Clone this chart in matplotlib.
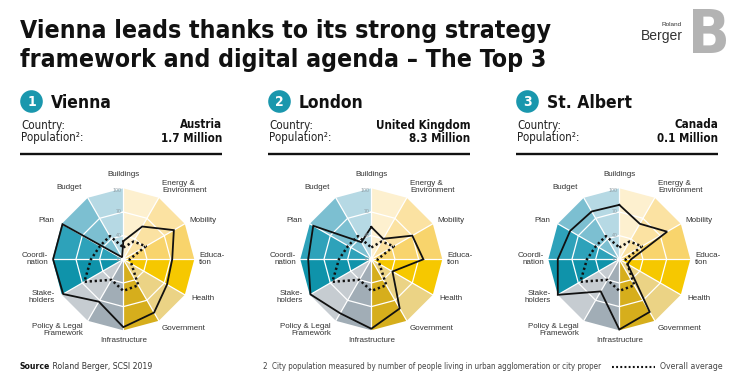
import os
import numpy as np
import matplotlib
matplotlib.use("Agg")
import matplotlib.pyplot as plt
from matplotlib import font_manager
from matplotlib.font_manager import FontProperties
from matplotlib.patches import Circle

# ---- data ----
categories = ['Buildings', 'Energy &\nEnvironment', 'Mobility', 'Educa-\ntion', 'Health',
              'Government', 'Infrastructure', 'Policy & Legal\nFramework', 'Stake-\nholders',
              'Coordi-\nnation', 'Plan', 'Budget']
vienna = [33, 58, 84, 72, 74, 88, 96, 72, 98, 99, 99, 13]
london = [51, 40, 70, 76, 41, 82, 98, 89, 99, 90, 95, 35]
st_albert = [79, 62, 80, 25, 22, 87, 99, 57, 100, 88, 82, 80]
overall_avg = [25, 36, 43, 18, 22, 48, 50, 40, 67, 51, 44, 44]

cities = ['Vienna', 'London', 'St. Albert']
countries = ['Austria', 'United Kingdom', 'Canada']
populations = ['1.7 Million', '8.3 Million', '0.1 Million']
city_scores = [vienna, london, st_albert]
ring_ticks = [10, 40, 70, 100]

# wedge colours, clockwise from the top spoke
wedge_colors = ['#FDF0CF', '#FBE2A2', '#F8D46C', '#F6C800', '#EBD385', '#D6AE1C',
                '#A1ADB6', '#C6CCD1', '#0F93AA', '#2EA2BA', '#7CBFD1', '#B6D9E4']

# label placement (angle in degrees, radius in score units)
label_pos = [(0, 117), (40, 130), (64, 123), (90, 122), (116, 122), (139, 126),
             (180, 113), (223, 132), (245, 124), (270, 122), (297, 119), (323, 124)]
label_align = ['center', 'left', 'center', 'left', 'center', 'center',
               'center', 'right', 'right', 'right', 'center', 'center']


def find_condensed(want_weight):
    """Look for an installed narrow/condensed face, closest to the wanted weight."""
    best, best_score = None, None
    for f in font_manager.fontManager.ttflist:
        nm = f.name.lower()
        fn = os.path.basename(f.fname).lower()
        stretch = str(f.stretch).lower()
        cond = ('condensed' in stretch or 'narrow' in nm or 'condensed' in nm
                or 'cond' in fn or 'narrow' in fn)
        if not cond or f.style != 'normal' or 'italic' in fn or 'mono' in nm:
            continue
        w = f.weight if isinstance(f.weight, int) else {'normal': 400, 'regular': 400, 'bold': 700,
                                                        'light': 300}.get(str(f.weight), 400)
        score = abs(w - want_weight)
        if 'extra' in stretch or 'extra' in fn or 'ultra' in stretch:
            score += 150
        if 'semi' in stretch or 'semi' in fn:
            score += 40
        if best_score is None or score < best_score:
            best, best_score = f.fname, score
    return best


bold_path = find_condensed(700)
reg_path = find_condensed(400)


def fp(bold=False, size=10):
    path = bold_path if bold else reg_path
    if path:
        return FontProperties(fname=path, size=size)
    return FontProperties(family=['Roboto', 'DejaVu Sans'], weight='bold' if bold else 'normal', size=size)


names = {f.name for f in font_manager.fontManager.ttflist}
REG = 'Liberation Sans' if 'Liberation Sans' in names else 'DejaVu Sans'

W, H = 746, 388
fig = plt.figure(figsize=(W / 100, H / 100), dpi=100)
renderer = fig.canvas.get_renderer()


def fit(txt, target, others=()):
    w = txt.get_window_extent(renderer).width
    size = txt.get_fontsize() * target / w
    for t in (txt,) + tuple(others):
        t.set_fontsize(size)


# full-figure overlay in pixel units for the text furniture
ov = fig.add_axes([0, 0, 1, 1], zorder=0)
ov.set_xlim(0, W)
ov.set_ylim(H, 0)
ov.axis('off')

t1 = ov.text(20, 38, 'Vienna leads thanks to its strong strategy', fontproperties=fp(True, 20),
             color='#111111', va='baseline')
t2 = ov.text(20, 67, 'framework and digital agenda \u2013 The Top 3', fontproperties=fp(True, 20),
             color='#111111', va='baseline')
fit(t1, 530, (t2,))

# logo
ov.text(682, 26, 'Roland', fontsize=4.6, family=REG, ha='right', va='baseline', color='#333333')
ov.text(683, 40, 'Berger', fontsize=10, family=REG, ha='right', va='baseline', color='#333333')
ov.text(709, 53, 'B', fontproperties=fp(True, 44), ha='center', va='baseline', color='#b3b3b3')

teal = '#1A97AD'
n = len(categories)
theta = np.deg2rad(np.arange(n) * 360 / n)
theta_c = np.append(theta, theta[0])
R_PX = 71
CY = 259.3

for i, (city, country, pop, scores) in enumerate(zip(cities, countries, populations, city_scores)):
    x0 = 20 + 248 * i
    ov.add_patch(Circle((x0 + 11.5, 101.5), 11.3, color=teal, lw=0))
    ov.text(x0 + 11.5, 101.8, str(i + 1), fontproperties=fp(True, 10),
            color='white', ha='center', va='center')
    ov.text(x0 + 31, 107.7, city, fontproperties=fp(True, 12.5), color='#111111', va='baseline')
    ov.text(x0 + 1, 128.5, 'Country:', fontproperties=fp(False, 8.3), color='#222222', va='baseline')
    ov.text(x0 + 1, 141.5, 'Population\u00b2:', fontproperties=fp(False, 8.3), color='#222222', va='baseline')
    ov.text(x0 + 202, 128.5, country, fontproperties=fp(True, 8.3),
            color='#111111', va='baseline', ha='right')
    ov.text(x0 + 202, 141.5, pop, fontproperties=fp(True, 8.3),
            color='#111111', va='baseline', ha='right')
    ov.plot([x0, x0 + 202], [153.5, 153.5], color='#111111', lw=1.7, solid_capstyle='butt')

    # radar
    cx = x0 + 103.3
    ax = fig.add_axes([(cx - R_PX) / W, 1 - (CY + R_PX) / H, 2 * R_PX / W, 2 * R_PX / H],
                      projection='polar', zorder=2)
    ax.set_theta_zero_location('N')
    ax.set_theta_direction(-1)
    ax.set_ylim(10, 100)
    ax.axis('off')

    for k in range(n):
        a, b = theta_c[k], theta_c[k + 1]
        ax.fill([a, a, b], [10, 100, 100], color=wedge_colors[k], lw=0, clip_on=False)
    for rv in ring_ticks[1:3]:
        ax.plot(theta_c, [rv] * (n + 1), color='white', lw=0.9, clip_on=False)
    for t in theta:
        ax.plot([t, t], [10, 100], color='white', lw=0.9, clip_on=False)
    for rv in ring_ticks:
        ax.annotate(str(rv), xy=(0, rv if rv < 100 else 97), xytext=(-1.2, 0),
                    textcoords='offset points', fontsize=3.8, family=REG,
                    color='#8f9ca3', ha='right', va='center', annotation_clip=False)

    avg_c = overall_avg + overall_avg[:1]
    ax.plot(theta_c, avg_c, color='#111111', lw=1.8, linestyle=(0, (0.9, 1.1)),
            dash_capstyle='butt', clip_on=False)
    sc = scores + scores[:1]
    ax.plot(theta_c, sc, color='#111111', lw=1.3, clip_on=False, solid_joinstyle='miter')

    for lab, (ang, rr), al in zip(categories, label_pos, label_align):
        ax.text(np.deg2rad(ang), rr, lab, fontsize=5.8, family=REG, color='#333333',
                ha='center', va='center', multialignment=al, linespacing=0.95, clip_on=False)

# footer
src = ov.text(20, 369, 'Source', fontproperties=fp(True, 6.2), color='#111111', va='baseline')
ov.annotate(' Roland Berger, SCSI 2019', xy=(1, 0), xycoords=src, fontproperties=fp(False, 6.2),
            color='#333333', va='bottom', ha='left')
note = ov.text(263, 369, '2  City population measured by number of people living in urban '
               'agglomeration or city proper', fontproperties=fp(False, 6.3), color='#444444', va='baseline')
fit(note, 338)
ov.plot([612, 655], [366.5, 366.5], color='#111111', lw=1.5, linestyle=(0, (0.9, 1.1)), dash_capstyle='butt')
ov.text(660, 369, 'Overall average', fontproperties=fp(False, 6.2), color='#444444', va='baseline')

fig.savefig('out.png', dpi=100)
